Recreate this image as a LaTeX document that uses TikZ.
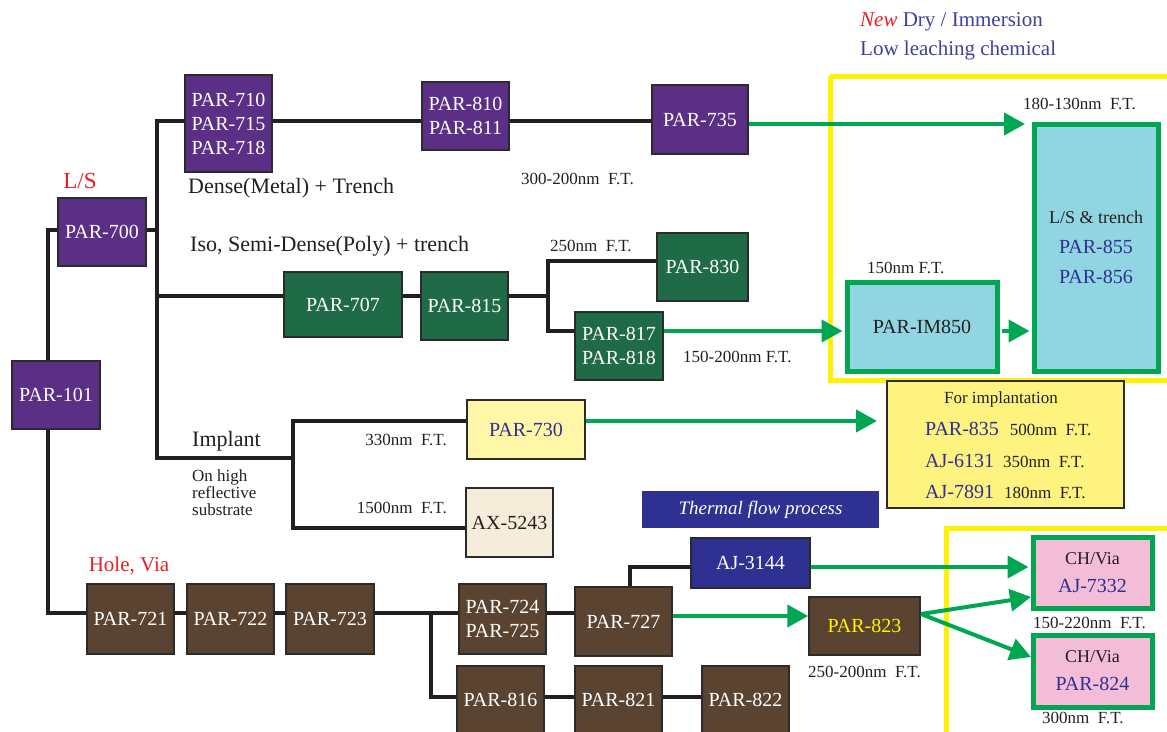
\documentclass[tikz,border=0pt]{standalone}
\usepackage{fontspec}
\setmainfont{Liberation Serif}
\usetikzlibrary{arrows.meta,backgrounds}
\definecolor{purp}{HTML}{5B2F86}
\definecolor{grn}{HTML}{1F6B47}
\definecolor{brn}{HTML}{5A4431}
\definecolor{bord}{HTML}{2B2B2B}
\definecolor{lin}{HTML}{231F20}
\definecolor{garr}{HTML}{00A651}
\definecolor{yel}{HTML}{FFF200}
\definecolor{cyanf}{HTML}{92D5E2}
\definecolor{pinkf}{HTML}{F4BDD7}
\definecolor{ltyel}{HTML}{FFF6A8}
\definecolor{yel2}{HTML}{FFF380}
\definecolor{cream}{HTML}{F5ECDA}
\definecolor{tblue}{HTML}{2E3192}
\definecolor{hblue}{HTML}{3F3FA0}
\definecolor{redt}{HTML}{ED1C24}
\definecolor{dark}{HTML}{231F20}
\newcommand{\fbig}{\fontsize{20}{24}\selectfont}
\newcommand{\fsm}{\fontsize{17}{19}\selectfont}
\newcommand{\fann}{\fontsize{22}{26}\selectfont}
\newcommand{\fmid}{\fontsize{18}{22}\selectfont}
\newcommand{\fhead}{\fontsize{21}{25}\selectfont}
\begin{document}
\begin{tikzpicture}[x=1pt,y=-1pt,
  box/.style={draw=bord, line width=1.5pt, inner sep=0pt, align=center, text=white, font=\fbig},
  pbox/.style={box, fill=purp},
  gbox/.style={box, fill=grn},
  bbox/.style={box, fill=brn},
  cbox/.style={draw=garr, line width=5pt, fill=cyanf, inner sep=0pt, align=center, font=\fbig, text=dark},
  kbox/.style={draw=garr, line width=5pt, fill=pinkf, inner sep=0pt, align=center, font=\fbig, text=tblue},
  conn/.style={draw=lin, line width=3.5pt},
  garrow/.style={draw=garr, line width=4pt, -{Triangle[length=21pt,width=22pt]}},
  lbl/.style={font=\fsm, text=dark, inner sep=0pt},
  ann/.style={font=\fann, text=dark, inner sep=0pt},
  frame/.style={draw=yel, line width=5pt}
]
\useasboundingbox (0,0) rectangle (1167,731);

% yellow frames
\draw[frame] (830,76) -- (1180,76) (830,76) -- (830,380) -- (1180,380);
\draw[frame] (946,740) -- (946,528) -- (1180,528);

% headings
\node[font=\fhead, text=hblue, anchor=west, inner sep=0pt] (h1) at (860,22) {\textcolor{redt}{\itshape New} Dry / Immersion};
\node[font=\fhead, text=hblue, anchor=west, inner sep=0pt] (h2) at (860,50) {Low leaching chemical};

% purple
\node[pbox, minimum width=88pt, minimum height=68pt] (p101) at (56,395) {PAR-101};
\node[pbox, minimum width=88pt, minimum height=68pt] (p700) at (102,232) {PAR-700};
\node[pbox, minimum width=87pt, minimum height=97pt] (p710) at (228.5,123.5) {PAR-710\\PAR-715\\PAR-718};
\node[pbox, minimum width=87pt, minimum height=68pt] (p810) at (465.5,116) {PAR-810\\PAR-811};
\node[pbox, minimum width=96pt, minimum height=69pt] (p735) at (700,119.5) {PAR-735};

% green
\node[gbox, minimum width=118pt, minimum height=65pt] (p707) at (343,304.5) {PAR-707};
\node[gbox, minimum width=87pt, minimum height=68pt] (p815) at (464.5,306) {PAR-815};
\node[gbox, minimum width=91pt, minimum height=68pt] (p830) at (702.5,267) {PAR-830};
\node[gbox, minimum width=88pt, minimum height=68pt] (p817) at (619,346) {PAR-817\\PAR-818};

% implant
\node[box, fill=ltyel, text=tblue, minimum width=118pt, minimum height=59pt] (p730) at (526,429.5) {PAR-730};
\node[box, fill=cream, text=dark, minimum width=87pt, minimum height=69pt] (ax) at (509.5,522.5) {AX-5243};

% cyan
\node[cbox, minimum width=150pt, minimum height=89pt] (im850) at (922,326.5) {PAR-IM850};
\node[cbox, minimum width=124pt, minimum height=247pt] (ls855) at (1096,247.5)
  {{\fmid L/S \& trench}\\[6pt]{\color{tblue}PAR-855}\\[6pt]{\color{tblue}PAR-856}};

% implantation box
\node[draw=bord, line width=2pt, fill=yel2, minimum width=237pt, minimum height=127pt, inner sep=0pt] (impl) at (1005.5,444.5) {};
\node[lbl] (implt) at (1001,399) {For implantation};
\node[lbl, anchor=west] (r1) at (925,429) {{\fbig\color{tblue}PAR-835}\hspace{11pt}500nm\ \ F.T.};
\node[lbl, anchor=west] (r2) at (925,461) {{\fbig\color{tblue}AJ-6131}\hspace{9pt}350nm\ \ F.T.};
\node[lbl, anchor=west] (r3) at (925,492) {{\fbig\color{tblue}AJ-7891}\hspace{10pt}180nm\ \ F.T.};

% bottom brown
\node[bbox, minimum width=87pt, minimum height=70pt] (p721) at (130.5,619) {PAR-721};
\node[bbox, minimum width=87pt, minimum height=70pt] (p722) at (230.5,619) {PAR-722};
\node[bbox, minimum width=88pt, minimum height=70pt] (p723) at (330,619) {PAR-723};
\node[bbox, minimum width=87pt, minimum height=70pt] (p724) at (502.5,619) {PAR-724\\PAR-725};
\node[bbox, minimum width=97pt, minimum height=69pt] (p727) at (623.5,621.5) {PAR-727};
\node[bbox, minimum width=111pt, minimum height=58pt, text=yel] (p823) at (864.5,626) {PAR-823};
\node[bbox, minimum width=87pt, minimum height=68pt] (p816) at (500.5,700) {PAR-816};
\node[bbox, minimum width=87pt, minimum height=68pt] (p821) at (618.5,700) {PAR-821};
\node[bbox, minimum width=87pt, minimum height=68pt] (p822) at (745.5,700) {PAR-822};
\node[box, fill=tblue, minimum width=119pt, minimum height=50pt] (aj3144) at (750.5,563) {AJ-3144};
\node[fill=tblue, text=white, inner sep=0pt, minimum width=237pt, minimum height=37pt, font=\fontsize{19}{22}\selectfont\itshape] (thermal) at (760.5,509.5) {Thermal flow process};
\node[kbox, minimum width=119pt, minimum height=71pt] (aj7332) at (1092.5,572.5) {{\fmid\color{dark}CH/Via}\\[4pt]AJ-7332};
\node[kbox, minimum width=119pt, minimum height=72pt] (p824) at (1092.5,671) {{\fmid\color{dark}CH/Via}\\[4pt]PAR-824};

% labels
\node[font=\fontsize{23}{26}\selectfont, text=redt, inner sep=0pt] (lls) at (80,181) {L/S};
\node[font=\fhead, text=redt, inner sep=0pt] (lhole) at (129,566) {Hole, Via};
\node[ann, anchor=west] (ldense) at (188,188) {Dense(Metal) + Trench};
\node[ann, anchor=west] (liso) at (190,246) {Iso, Semi-Dense(Poly) + trench};
\node[ann, anchor=west] (limp) at (192,441) {Implant};
\node[lbl, anchor=west, align=left, font=\fontsize{17}{17}\selectfont] (lon) at (192,493) {On high\\reflective\\substrate};
\node[lbl, anchor=west] (f1) at (521,179) {300-200nm\ \ F.T.};
\node[lbl, anchor=west] (f2) at (550,246) {250nm\ \ F.T.};
\node[lbl, anchor=west] (f3) at (683,357) {150-200nm F.T.};
\node[lbl, anchor=west] (f4) at (867,268) {150nm F.T.};
\node[lbl, anchor=west] (f5) at (1023,104) {180-130nm\ \ F.T.};
\node[lbl, anchor=east] (f6) at (447,440) {330nm\ \ F.T.};
\node[lbl, anchor=east] (f7) at (447,508) {1500nm\ \ F.T.};
\node[lbl, anchor=west] (f8) at (808,672) {250-200nm\ \ F.T.};
\node[lbl, anchor=west] (f9) at (1033,623) {150-220nm\ \ F.T.};
\node[lbl, anchor=west] (f10) at (1042,718) {300nm\ \ F.T.};

% junction coordinates
\coordinate (t1) at (48,230);
\coordinate (t2) at (48,613);
\coordinate (j1) at (157,230);
\coordinate (ja) at (157,121);
\coordinate (jb) at (157,296);
\coordinate (jimp) at (157,458);
\coordinate (kimp) at (293,458);
\coordinate (jf) at (293,421);
\coordinate (jg) at (293,528);
\coordinate (jc) at (548,296);
\coordinate (jd) at (548,261);
\coordinate (je) at (548,331);
\coordinate (jh) at (431,613);
\coordinate (ji) at (431,697);
\coordinate (jk) at (630,567);

% black connectors, behind the boxes
\begin{pgfonlayer}{background}
\draw[conn] (p700.west |- t1) -- (t1) -- (t2) -- (p721.west |- t2);
\draw[conn] (p700.east |- j1) -- (j1);
\draw[conn] (p710.west |- ja) -- (ja) -- (jimp) -- (kimp);
\draw[conn] (p707.west |- jb) -- (jb);
\draw[conn] (p710.east |- ja) -- (p810.west |- ja);
\draw[conn] (p810.east |- ja) -- (p735.west |- ja);
\draw[conn] (p707.east |- jb) -- (p815.west |- jb);
\draw[conn] (p815.east |- jb) -- (jc);
\draw[conn] (p830.west |- jd) -- (jd) -- (je) -- (p817.west |- je);
\draw[conn] (p730.west |- jf) -- (jf) -- (jg) -- (ax.west |- jg);
\draw[conn] (p721.east |- t2) -- (p722.west |- t2);
\draw[conn] (p722.east |- t2) -- (p723.west |- t2);
\draw[conn] (p723.east |- t2) -- (p724.west |- t2);
\draw[conn] (p724.east |- t2) -- (p727.west |- t2);
\draw[conn] (jh) -- (ji) -- (p816.west |- ji);
\draw[conn] (p816.east |- ji) -- (p821.west |- ji);
\draw[conn] (p821.east |- ji) -- (p822.west |- ji);
\draw[conn] (jk |- p727.north) -- (jk) -- (aj3144.west |- jk);
\end{pgfonlayer}

% green arrows
\coordinate (tipA) at (1025,124);
\coordinate (tipD) at (877,421);
\coordinate (yB) at (0,331);
\coordinate (yE) at (0,567);
\coordinate (yF) at (0,616);
\coordinate (src) at (921,614);
\coordinate (tipG) at (1031,597);
\coordinate (tipH) at (1031,657);
\draw[garrow] (p735.east |- tipA) -- (tipA);
\draw[garrow, shorten >=2pt] (p817.east |- yB) -- (im850.west |- yB);
\draw[garrow, shorten >=2pt, shorten <=2pt] (im850.east |- yB) -- (ls855.west |- yB);
\draw[garrow] (p730.east |- tipD) -- (tipD);
\draw[garrow, shorten >=2pt] (aj3144.east |- yE) -- (aj7332.west |- yE);
\draw[garrow] (p727.east |- yF) -- (p823.west |- yF);
\draw[garrow] (src) -- (tipG);
\draw[garrow] (src) -- (tipH);
\end{tikzpicture}
\end{document}
